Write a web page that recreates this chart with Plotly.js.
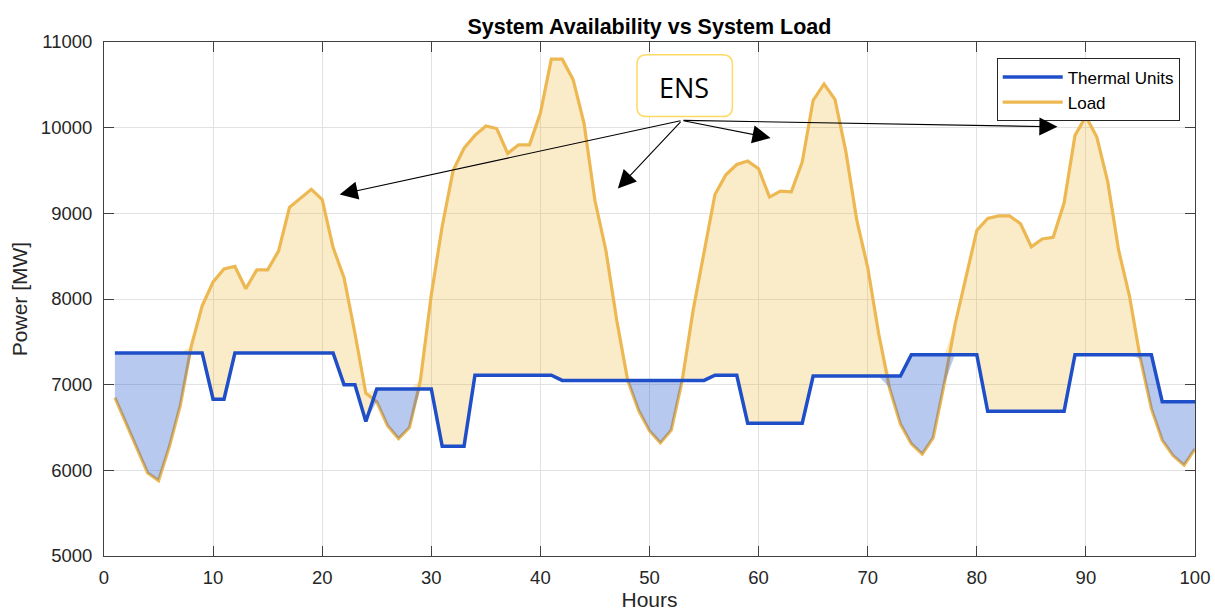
<!DOCTYPE html>
<html>
<head>
<meta charset="utf-8">
<script src="https://cdn.plot.ly/plotly-3.0.1.min.js"></script>
<style>html,body{margin:0;padding:0;background:#fff;}#chart{width:1215px;height:615px;}</style>
</head>
<body>
<div id="chart"></div>
<script>
// ---- Data ----
const hours = [1,2,3,4,5,6,7,8,9,10,11,12,13,14,15,16,17,18,19,20,
  21,22,23,24,25,26,27,28,29,30,31,32,33,34,35,36,37,38,39,40,
  41,42,43,44,45,46,47,48,49,50,51,52,53,54,55,56,57,58,59,60,
  61,62,63,64,65,66,67,68,69,70,71,72,73,74,75,76,77,78,79,80,
  81,82,83,84,85,86,87,88,89,90,91,92,93,94,95,96,97,98,99,100];

const loadMW = [6848,6550,6250,5970,5880,6280,6760,7450,7920,8200,
  8350,8380,8120,8340,8340,8560,9070,9170,9280,9160,
  8600,8250,7600,6900,6800,6520,6370,6500,7050,8050,
  8850,9500,9760,9910,10020,9990,9700,9800,9800,10170,
  10800,10800,10560,10050,9150,8570,7750,7050,6700,6460,
  6320,6470,7050,7870,8530,9220,9450,9570,9610,9520,
  9190,9260,9250,9600,10320,10510,10330,9720,8920,8370,
  7600,6960,6540,6310,6190,6380,7000,7700,8250,8800,
  8940,8970,8970,8880,8610,8700,8720,9120,9910,10130,
  9890,9370,8570,8030,7300,6720,6350,6170,6060,6250];

const thermalMW = [7370,7370,7370,7370,7370,7370,7370,7370,7370,6830,
  6830,7370,7370,7370,7370,7370,7370,7370,7370,7370,
  7370,7000,7000,6570,6950,6950,6950,6950,6950,6950,
  6280,6280,6280,7110,7110,7110,7110,7110,7110,7110,
  7110,7050,7050,7050,7050,7050,7050,7050,7050,7050,
  7050,7050,7050,7050,7050,7110,7110,7110,6550,6550,
  6550,6550,6550,6550,7100,7100,7100,7100,7100,7100,
  7100,7100,7100,7350,7350,7350,7350,7350,7350,7350,
  6690,6690,6690,6690,6690,6690,6690,6690,7350,7350,
  7350,7350,7350,7350,7350,7350,6800,6800,6800,6800];

const seriesNames = ["Thermal Units", "Load"];
const titleText = "System Availability vs System Load";
const xLabel = "Hours";
const yLabel = "Power [MW]";
const ensLabel = "ENS";
const xTicks = [0,10,20,30,40,50,60,70,80,90,100];
const yTicks = [5000,6000,7000,8000,9000,10000,11000];

// ---- Derived envelopes for the shaded areas ----
const upperEnv = loadMW.map((v,i) => Math.max(v, thermalMW[i]));
const lowerEnv = loadMW.map((v,i) => Math.min(v, thermalMW[i]));

const blueLine = "#1F4FC8";
const loadLine = "#EDB852";
const F = "Liberation Sans, Arial, sans-serif";

const traces = [
  {x: hours, y: thermalMW, mode: "lines", line: {width: 0}, showlegend: false, hoverinfo: "skip"},
  {x: hours, y: upperEnv, mode: "lines", line: {width: 0}, fill: "tonexty",
   fillcolor: "rgba(237,177,40,0.25)", showlegend: false, hoverinfo: "skip"},
  {x: hours, y: loadMW, mode: "lines", name: seriesNames[1], legendrank: 2,
   line: {color: loadLine, width: 3.2}},
  {x: hours, y: lowerEnv, mode: "lines", line: {width: 0}, showlegend: false, hoverinfo: "skip"},
  {x: hours, y: thermalMW, mode: "lines", line: {width: 0}, fill: "tonexty",
   fillcolor: "rgba(40,90,210,0.33)", showlegend: false, hoverinfo: "skip"},
  {x: hours, y: thermalMW, mode: "lines", name: seriesNames[0], legendrank: 1,
   line: {color: blueLine, width: 3.5}}
];

// ENS box (rounded rectangle) in data coordinates
const bx0 = 48.85, bx1 = 57.6, by0 = 10130, by1 = 10850, rx = 0.9, ry = 115;
const boxPath = `M ${bx0+rx},${by1} L ${bx1-rx},${by1} Q ${bx1},${by1} ${bx1},${by1-ry} L ${bx1},${by0+ry} Q ${bx1},${by0} ${bx1-rx},${by0} L ${bx0+rx},${by0} Q ${bx0},${by0} ${bx0},${by0+ry} L ${bx0},${by1-ry} Q ${bx0},${by1} ${bx0+rx},${by1} Z`;

const tail = {x: 52.98, y: 10085};
const heads = [[21.6, 9220], [47.1, 9290], [61.1, 9880], [87.4, 10010]];
const arrows = heads.map(h => ({
  x: h[0], y: h[1], xref: "x", yref: "y", ax: tail.x, ay: tail.y, axref: "x", ayref: "y",
  showarrow: true, arrowhead: 2, arrowsize: 3.3, arrowwidth: 1.1, arrowcolor: "#000",
  standoff: 0, startstandoff: 0, text: ""
}));

const layout = {
  width: 1215, height: 615,
  margin: {l: 104, r: 20, t: 42, b: 59},
  paper_bgcolor: "#fff", plot_bgcolor: "#fff",
  font: {family: F, color: "#262626"},
  title: {text: "<b>" + titleText + "</b>", font: {family: F, size: 21.5, color: "#000"},
          x: 0.5345, xanchor: "center", y: 0.957, yanchor: "middle"},
  xaxis: {range: [0, 100], tickvals: xTicks, ticks: "inside", ticklen: 10, tickcolor: "#404040",
          showline: true, linecolor: "#404040", linewidth: 1, mirror: "ticks",
          showgrid: true, gridcolor: "#e2e2e2", zeroline: false, ticklabelstandoff: 5,
          tickfont: {size: 18.5, family: F, color: "#262626"},
          title: {text: xLabel, font: {size: 21, family: F, color: "#262626"}, standoff: 5}},
  yaxis: {range: [5000, 11000], tickvals: yTicks, tickformat: "d", ticks: "inside", ticklen: 10, tickcolor: "#404040",
          showline: true, linecolor: "#404040", linewidth: 1, mirror: "ticks",
          showgrid: true, gridcolor: "#e2e2e2", zeroline: false, ticklabelstandoff: 7,
          tickfont: {size: 18.5, family: F, color: "#262626"},
          title: {text: yLabel, font: {size: 21, family: F, color: "#262626"}, standoff: 7}},
  legend: {x: 0.986, y: 0.968, xanchor: "right", yanchor: "top", bgcolor: "#fff",
           bordercolor: "#262626", borderwidth: 1, font: {size: 17, family: F, color: "#000"},
           tracegroupgap: 0, traceorder: "normal", itemwidth: 60},
  shapes: [{type: "path", path: boxPath, xref: "x", yref: "y",
            line: {color: "#FFD966", width: 1.5}, fillcolor: "rgba(255,255,255,1)", layer: "above"}],
  annotations: arrows.concat([{
    x: 53.2, y: 10470, xref: "x", yref: "y", text: ensLabel, showarrow: false,
    font: {size: 27, family: "Open Sans, Noto Sans, sans-serif", color: "#000"}
  }])
};

Plotly.newPlot("chart", traces, layout, {displayModeBar: false, staticPlot: true});
</script>
</body>
</html>
